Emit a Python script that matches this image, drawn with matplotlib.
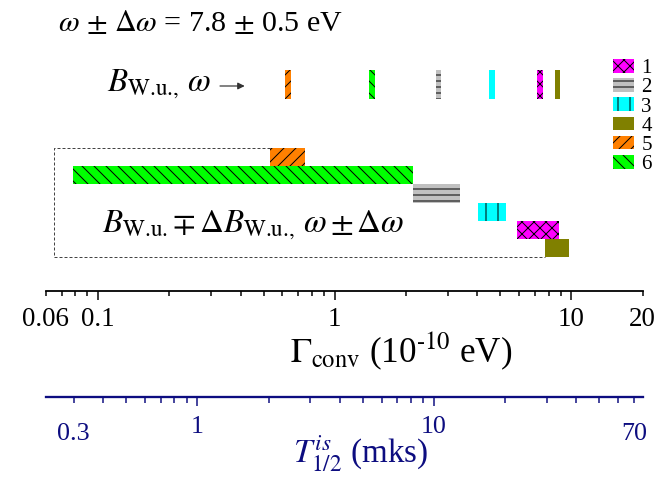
import matplotlib
matplotlib.use("Agg")
import matplotlib.pyplot as plt
import numpy as np

# --- datos (Gamma_conv en unidades de 1e-10 eV) ---
labels = ["1", "2", "3", "4", "5", "6"]
colors = ["#ff00ff", "#c0c0c0", "#00ffff", "#808000", "#ff8000", "#00ff00"]
hatches = ["xx", "--", "|", "", "//", "\\\\"]

# intervalos  B_W.u. -+ dB, omega +- d omega
G_lo = [5.89, 2.14, 4.03, 7.70, 0.530, 0.0784]
G_hi = [8.86, 3.38, 5.28, 9.79, 0.750, 2.15]

# valores para B_W.u., omega (barras angostas de arriba)
w_lo = [7.18, 2.67, 4.48, 8.51, 0.618, 1.39]
w_hi = [7.59, 2.82, 4.75, 8.94, 0.652, 1.475]

# orden de las filas (de arriba hacia abajo) en el bloque inferior
row_rank = [4, 2, 3, 5, 0, 1]
box_left = 0.0648

# escala de tiempo: T_1/2 (mks) = k * Gamma
k_T = 3.81

G_major = [0.1, 1, 10]
G_minor = [0.06, 0.07, 0.08, 0.09] + [0.2, 0.3, 0.4, 0.5, 0.6, 0.7, 0.8, 0.9] + \
          [2, 3, 4, 5, 6, 7, 8, 9, 20]
G_minor_lab = {0.06: "0.06", 20: "20"}

T_major = [1, 10]
T_minor = [0.3, 0.4, 0.5, 0.6, 0.7, 0.8, 0.9] + [2, 3, 4, 5, 6, 7, 8, 9] + \
          [20, 30, 40, 50, 60, 70]
T_minor_lab = {0.3: "0.3", 70: "70"}

navy = "#0d0d80"

plt.rcParams["font.family"] = ["Liberation Serif", "DejaVu Serif"]
plt.rcParams["mathtext.fontset"] = "stix"
plt.rcParams["hatch.linewidth"] = 1.0

W, H = 668, 478
fig = plt.figure(figsize=(W / 72, H / 72), dpi=72)


def fpx(x, y):
    # posicion en pixeles (desde arriba-izquierda) -> fraccion de figura
    return x / W, 1 - y / H


y_axis = 290.5
ax = fig.add_axes([45.7 / W, 1 - y_axis / H, (642.7 - 45.7) / W, y_axis / H])
ax.set_xscale("log")
ax.set_xlim(0.06, 20)
ax.set_ylim(y_axis, 0)

# barras del bloque inferior
bars = []
for i in range(len(labels)):
    yc = 157 + 18.2 * row_rank[i]
    b = ax.barh(yc, G_hi[i] - G_lo[i], left=G_lo[i], height=18.2,
                color=colors[i], edgecolor="black", linewidth=0,
                hatch=hatches[i], label=labels[i])
    bars.append(b)
    # barras angostas (B_W.u., omega)
    ax.barh(84.3, w_hi[i] - w_lo[i], left=w_lo[i], height=28.7,
            color=colors[i], edgecolor="black", linewidth=0, hatch=hatches[i])

# recuadro punteado
y_top = 157 - 9.1
y_bot = 157 + 18.2 * 5 + 9.1
ax.plot([G_lo[4], box_left, box_left, G_lo[3]], [y_top, y_top, y_bot, y_bot],
        ls=(0, (3, 2)), color="#444444", lw=1)

# ejes
for s in ["top", "left", "right"]:
    ax.spines[s].set_visible(False)
ax.spines["bottom"].set_linewidth(1.8)
ax.tick_params(axis="y", left=False, labelleft=False)
ax.set_xticks(G_major, labels=[str(v) for v in G_major])
ax.set_xticks(G_minor, labels=[G_minor_lab.get(v, "") for v in G_minor], minor=True)
ax.tick_params(axis="x", which="major", length=9, width=1.5, pad=7, labelsize=27)
ax.tick_params(axis="x", which="minor", length=5, width=1.5, pad=11, labelsize=27)
ax.set_xlabel(r"$\Gamma_{\rm conv}$ (10$^{\text{-}10}$ eV)", fontsize=35, ha="left", va="baseline")
ax.xaxis.set_label_coords(*fpx(290, 362), transform=fig.transFigure)

secax = ax.secondary_xaxis(-(397 - y_axis) / y_axis,
                           functions=(lambda g: g * k_T, lambda t: t / k_T))
secax.set_xticks(T_major, labels=[str(v) for v in T_major])
secax.set_xticks(T_minor, labels=[T_minor_lab.get(v, "") for v in T_minor], minor=True)
secax.spines["bottom"].set_color(navy)
secax.spines["bottom"].set_linewidth(2.3)
secax.tick_params(which="both", colors=navy, width=1.5, labelsize=26)
secax.tick_params(which="major", length=9, pad=10)
secax.tick_params(which="minor", length=5.7, pad=20)
secax.set_xlabel(r"$T^{is}_{1/2}$ (mks)", fontsize=33, color=navy, ha="left", va="baseline")
secax.xaxis.set_label_coords(*fpx(292.7, 463), transform=fig.transFigure)

# textos
fig.text(*fpx(58, 30.7), r"$\omega$ $\pm$ $\Delta\omega$ = 7.8 $\pm$ 0.5 eV",
         fontsize=30, va="baseline")
fig.text(*fpx(106.7, 91), r"$B_{\text{W.u.,}}$ $\omega$", fontsize=33, va="baseline")
ax.annotate("", xy=(246.7, H - 86), xytext=(218, H - 86),
            xycoords="figure pixels", textcoords="figure pixels",
            arrowprops=dict(arrowstyle="-|>", color="#333333", lw=1.2,
                            mutation_scale=14))
fig.text(*fpx(102.5, 231.8),
         r"$B_{\text{W.u.}}\,{\mp}\,\Delta B_{\text{W.u.,}}$ $\omega\,{\pm}\,\Delta\omega$",
         fontsize=33, va="baseline")

fig.legend(handles=bars, labels=labels, loc="upper left",
           bbox_to_anchor=fpx(613, 59), bbox_transform=fig.transFigure,
           frameon=False, fontsize=21, handlelength=1.0, handleheight=0.62,
           handletextpad=0.35, labelspacing=0.0, borderpad=0, borderaxespad=0)

fig.savefig("out.png", dpi=72)
